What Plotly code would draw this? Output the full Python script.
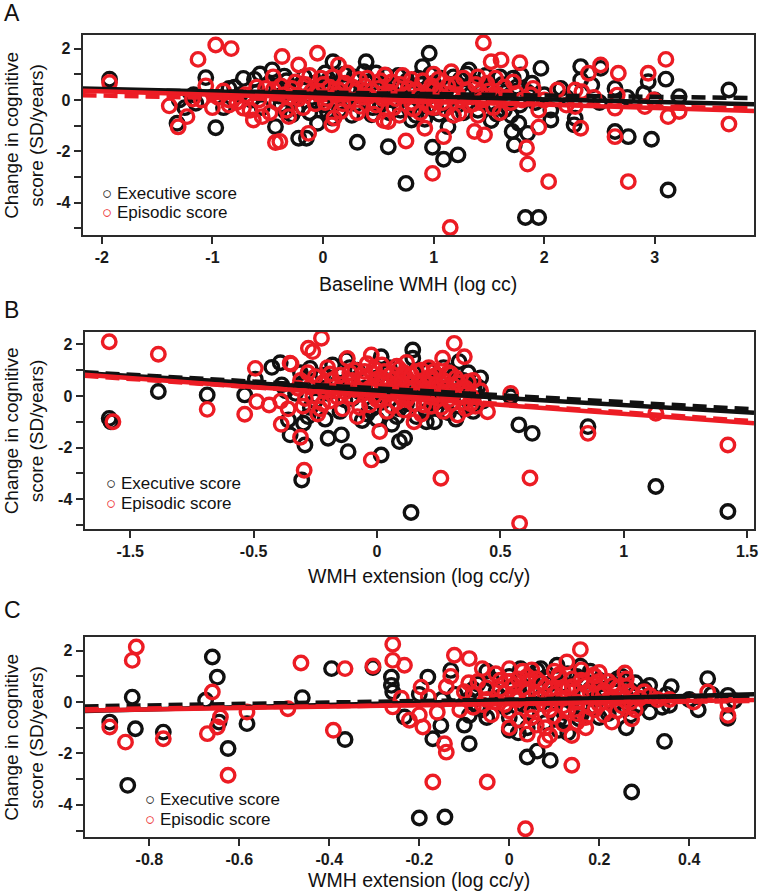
import plotly.graph_objects as go

W, H = 764, 893
BLACK = "#111111"
RED = "#ec1c24"
AXC = "#2a2a2a"
FONT = "Liberation Sans, Arial, sans-serif"

# ---------------- data ----------------
# Panel A: Baseline WMH (log cc) vs change in cognitive score
A_exec = [(-1.93, 0.81), (-1.06, 0.87), (-0.97, -1.08), (-1.32, -0.91), (-1.15, -0.13), (-1.17, 0.2),
          (-0.72, 0.84), (-0.57, 1.01), (-0.46, 1.17), (-0.35, 0.93), (-0.43, -1.04), (-0.85, 0.45),
          (-0.34, -0.45), (-0.22, -1.49), (-0.15, -1.49), (-0.05, -0.91), (0.31, -1.65), (0.59, -1.82),
          (0.75, -3.25), (0.96, 1.82), (0.90, 1.30), (0.99, -1.84), (1.09, -2.31), (1.22, -2.14),
          (1.13, -1.04), (1.32, 1.17), (1.83, -4.58), (1.95, -4.58), (1.73, -1.75), (1.77, -0.91),
          (1.79, 0.97), (1.97, 1.23), (1.85, -1.30), (2.06, -0.78), (2.06, -0.39), (1.89, 0.65),
          (2.33, 1.30), (2.33, 0.78), (2.51, 1.23), (2.43, 0.58), (2.28, -0.71), (2.27, -0.97),
          (2.64, 0.45), (2.64, -1.23), (2.76, -1.43), (2.94, 0.71), (2.97, -1.53), (3.10, 0.81),
          (3.12, -3.51), (3.22, 0.13), (3.67, 0.39), (0.09, 1.49), (0.39, 1.49), (0.44, -0.58),
          (0.80, -0.78), (1.02, -0.30), (1.64, -0.39), (1.71, -1.23), (-0.28, -0.58),
          (-0.3, 0.3), (-0.2, 0.6), (-0.1, 0.1), (-0.05, 0.45), (0.0, -0.2), (0.05, 0.8), (0.1, 0.25),
          (0.15, -0.4), (0.18, 0.55), (0.22, 0.05), (0.28, 0.9), (0.3, -0.15), (0.35, 0.4), (0.4, 0.7),
          (0.45, -0.3), (0.5, 0.2), (0.55, 0.6), (0.6, -0.5), (0.62, 0.35), (0.68, 0.95), (0.72, 0.1),
          (0.78, -0.35), (0.82, 0.5), (0.86, 0.85), (0.9, -0.1), (0.95, 0.3), (1.0, 0.65), (1.05, -0.55),
          (1.08, 0.15), (1.12, 0.45), (1.18, 0.9), (1.22, -0.2), (1.28, 0.3), (1.35, 0.7), (1.4, -0.4),
          (1.45, 0.1), (1.5, 0.55), (1.55, -0.15), (1.6, 0.9), (1.65, 0.3), (1.7, -0.6), (1.75, 0.5),
          (-0.4, 0.15), (0.08, -0.7), (0.48, 1.05), (0.92, -0.75), (1.3, 1.0), (1.52, -0.8), (2.0, 0.2),
          (2.2, 0.1), (2.5, -0.1), (2.75, 0.1), (2.9, 0.25), (3.0, 0.0), (2.15, 0.45), (-0.6, 0.3),
          (-0.8, 0.5), (-0.65, 0.0), (-0.5, 0.6), (-1.25, -0.3), (-1.3, 0.0),
          (-0.42, 0.55), (-0.38, -0.2), (-0.33, 0.75), (-0.27, 0.05), (-0.24, -0.35), (-0.17, 0.9),
          (-0.12, -0.5), (-0.08, 0.65), (-0.03, 0.2), (0.02, 1.05), (0.04, -0.45), (0.11, 0.6), (0.14, -0.1),
          (0.19, 1.0), (0.24, 0.35), (0.26, -0.6), (0.33, 0.15), (0.37, 1.1), (0.41, -0.1), (0.47, 0.5),
          (0.52, -0.2), (0.57, 0.95), (0.63, 0.0), (0.66, 0.6), (0.7, -0.4), (0.76, 0.75), (0.81, 0.25),
          (0.84, -0.6), (0.89, 0.6), (0.93, 0.05), (0.97, 1.0), (1.03, 0.35), (1.07, 0.85), (1.11, -0.15),
          (1.15, 0.6), (1.19, 0.1), (1.24, 0.8), (1.27, -0.5), (1.33, 0.2), (1.38, 0.5), (1.43, -0.1),
          (1.47, 0.95), (1.53, 0.35), (1.57, -0.55), (1.62, 0.6), (1.67, 0.0), (1.72, 0.85), (1.78, -0.2),
          (1.85, 0.3), (1.92, -0.1), (-0.55, -0.3), (-0.62, 0.8), (-0.9, -0.3), (-0.75, 0.2)]
A_epi = [(-1.93, 0.68), (-1.13, 1.58), (-0.97, 2.14), (-0.83, 2.0), (-1.06, 0.55), (-1.31, -1.05),
         (-1.23, -0.65), (-1.39, -0.23), (-1.18, 0.04), (-0.37, 1.69), (-0.43, -1.66), (-0.85, 0.0),
         (-0.85, -0.2), (-0.72, -0.32), (-0.63, -0.78), (-0.55, -0.65), (-0.52, 0.45), (-0.31, -0.65),
         (-0.39, -1.62), (-0.05, 1.82), (-0.13, -1.30), (0.08, -0.97), (0.75, -1.60), (0.99, -2.86),
         (1.09, -1.43), (1.15, -4.97), (1.45, 2.23), (1.52, 1.49), (1.61, 1.56), (1.37, -1.23),
         (1.46, -1.36), (1.84, -1.86), (1.85, -2.5), (1.78, 1.45), (1.95, -1.06), (2.04, -3.18),
         (2.12, 0.39), (1.9, 0.45), (2.40, 1.04), (2.51, 1.36), (2.28, 0.39), (2.34, 0.32),
         (2.33, -1.10), (2.28, -0.26), (2.67, 1.04), (2.66, 0.19), (2.64, -0.32), (2.64, -1.43),
         (2.76, -3.18), (2.94, 1.04), (2.91, -0.26), (2.99, 0.0), (3.10, 1.58), (3.12, -0.65),
         (3.22, -0.45), (3.67, -0.94), (0.59, -0.84), (0.92, -1.1), (1.23, -0.52), (1.4, -0.6),
         (1.55, 0.1), (0.56, 0.97), (1.16, 1.1), (-0.22, 1.36), (0.14, 1.36), (0.33, 0.8), (0.8, 0.8),
         (1.0, -0.3),
         (-0.45, 0.4), (-0.3, 0.1), (-0.25, 0.7), (-0.18, -0.3), (-0.1, 0.35), (-0.02, 0.85), (0.02, -0.1),
         (0.06, 0.5), (0.12, 0.2), (0.16, -0.45), (0.2, 0.65), (0.24, 0.0), (0.3, 0.35), (0.34, -0.25),
         (0.38, 0.55), (0.42, 0.15), (0.46, -0.55), (0.5, 0.45), (0.54, 0.05), (0.6, 0.3), (0.64, -0.3),
         (0.7, 0.6), (0.74, 0.2), (0.8, -0.1), (0.84, 0.4), (0.88, -0.5), (0.94, 0.15), (0.98, 0.55),
         (1.02, -0.05), (1.06, 0.35), (1.1, -0.35), (1.16, 0.25), (1.2, 0.6), (1.25, 0.0), (1.3, 0.4),
         (1.36, -0.15), (1.42, 0.3), (1.48, 0.65), (1.54, -0.3), (1.58, 0.2), (1.64, 0.5), (1.7, -0.1),
         (1.75, 0.25), (-0.7, 0.2), (-0.6, 0.5), (-0.95, 0.1), (-0.78, -0.1), (-1.1, 0.0), (0.1, -0.7),
         (0.55, -0.8), (1.0, 1.0), (1.4, 0.9), (2.0, 0.0), (2.2, -0.2), (2.45, 0.1), (1.95, -0.4),
         (-0.42, -0.1), (-0.38, 0.55), (-0.35, 0.2), (-0.33, -0.4), (-0.28, 0.45), (-0.22, 0.05),
         (-0.16, 0.6), (-0.12, 0.95), (-0.07, -0.15), (-0.04, 0.3), (0.0, 0.6), (0.04, 0.05), (0.09, 0.9),
         (0.14, 0.4), (0.18, -0.15), (0.22, 1.05), (0.27, 0.5), (0.31, -0.5), (0.36, 0.1), (0.4, 0.85),
         (0.44, 0.35), (0.48, -0.2), (0.52, 0.75), (0.57, 0.15), (0.62, 0.7), (0.66, 0.05), (0.69, -0.6),
         (0.72, 0.95), (0.77, 0.45), (0.82, -0.35), (0.86, 0.15), (0.9, 0.75), (0.96, -0.25), (1.0, 0.4),
         (1.04, 0.8), (1.08, -0.1), (1.13, 0.55), (1.18, -0.6), (1.22, 0.2), (1.27, 0.85), (1.33, -0.2),
         (1.38, 0.6), (1.44, 0.0), (1.5, 0.35), (1.56, 0.85), (1.6, -0.5), (1.66, 0.1), (1.72, 0.7),
         (1.8, 0.0), (1.88, 0.2), (-0.48, -0.5), (-0.58, 0.0), (-0.66, -0.4), (-0.9, 0.35), (-1.0, -0.3),
         (-0.45, 0.9)]

# Panel B: WMH extension (log cc/y)
B_exec = [(-1.085, -0.87), (-1.078, -1.0), (-0.886, 0.17), (-0.688, 0.04), (-0.536, 0.04), (-0.493, 0.65),
          (-0.426, 1.11), (-0.392, 1.29), (-0.386, 0.43), (-0.352, -1.51), (-0.305, -3.26), (-0.271, 1.07),
          (-0.124, 1.40), (0.017, 1.52), (0.145, 1.78), (0.145, 1.46), (0.333, 1.33), (-0.298, -1.06),
          (-0.292, -1.90), (-0.198, -1.64), (-0.144, -1.51), (-0.117, -2.16), (0.017, -2.29), (0.0, -0.9),
          (0.091, -1.77), (0.112, -1.64), (0.138, -4.52), (0.542, -0.03), (0.575, -1.12), (0.629, -1.45),
          (0.233, -1.0), (0.394, 0.36), (0.855, -1.19), (1.13, -3.51), (1.422, -4.48), (-0.359, -0.93),
          (-0.37, 0.2),
          (-0.3, 0.5), (-0.25, -0.2), (-0.22, 0.8), (-0.2, 0.1), (-0.15, -0.6), (-0.12, 0.6), (-0.1, -0.1),
          (-0.08, 1.0), (-0.05, 0.3), (-0.02, -0.5), (0.0, 0.7), (0.03, 0.0), (0.05, 1.1), (0.08, -0.8),
          (0.1, 0.4), (0.12, -0.3), (0.15, 0.9), (0.18, 0.1), (0.2, -0.6), (0.22, 0.5), (0.25, -0.2),
          (0.28, 0.8), (0.3, 0.2), (0.32, -0.9), (0.35, 0.6), (0.38, -0.4), (0.4, 0.1), (-0.28, -0.8),
          (-0.18, 1.2), (0.06, -1.1), (0.27, 1.1), (0.2, -1.0), (-0.06, -0.95), (0.36, -0.1),
          (-0.33, 0.1), (-0.31, 0.9), (-0.27, -0.45), (-0.23, 0.3), (-0.21, -0.9), (-0.16, 0.5),
          (-0.13, -0.15), (-0.11, 1.1), (-0.07, 0.15), (-0.04, -0.7), (-0.01, 0.45), (0.02, -0.25),
          (0.04, 0.9), (0.07, 0.2), (0.09, -0.5), (0.11, 0.75), (0.13, 0.1), (0.16, -0.8), (0.19, 0.4),
          (0.21, 1.0), (0.23, -0.3), (0.26, 0.25), (0.29, -0.65), (0.31, 0.55), (0.34, 0.0), (0.37, 0.9),
          (0.39, -0.6), (0.41, 0.35), (0.43, -0.2), (0.42, 0.7)]
B_epi = [(-1.085, 2.10), (-1.07, -1.0), (-0.886, 1.62), (-0.688, -0.52), (-0.536, -0.71), (-0.493, 1.07),
         (-0.487, -0.22), (-0.348, 1.24), (-0.437, -0.35), (-0.388, -1.10), (-0.36, -0.50), (-0.39, -0.2),
         (-0.295, -2.88), (-0.31, -1.6), (-0.225, 2.24), (-0.278, 1.85), (-0.26, 1.72), (-0.352, 1.27),
         (-0.12, 1.45), (-0.023, 1.59), (0.313, 2.04), (0.266, 1.46), (0.354, 1.52), (-0.023, -2.48),
         (0.011, -1.38), (0.259, -3.19), (0.578, -4.94), (0.542, 0.10), (0.448, -0.61), (0.62, -3.18),
         (0.15, -1.0), (0.327, -0.74), (0.38, -0.3), (0.855, -1.45), (1.13, -0.67), (1.422, -1.90),
         (-0.32, 0.3), (-0.3, -0.4), (-0.28, 0.9), (-0.26, 0.0), (-0.24, -0.7), (-0.22, 0.5), (-0.2, 1.1),
         (-0.19, -0.2), (-0.17, 0.2), (-0.15, 0.8), (-0.14, -0.5), (-0.12, 0.4), (-0.1, -0.05), (-0.09, 1.0),
         (-0.08, -0.8), (-0.06, 0.6), (-0.05, 0.15), (-0.03, -0.35), (-0.02, 0.9), (0.0, 0.35), (0.01, -0.1),
         (0.02, 1.2), (0.03, 0.6), (0.04, -0.6), (0.05, 0.1), (0.06, 0.85), (0.07, 0.4), (0.08, -0.25),
         (0.09, 1.05), (0.1, 0.2), (0.11, -0.55), (0.12, 0.7), (0.13, 0.0), (0.14, 0.45), (0.15, -0.3),
         (0.16, 0.95), (0.17, 0.25), (0.18, -0.7), (0.19, 0.6), (0.2, 0.05), (0.21, 1.1), (0.22, -0.4),
         (0.23, 0.35), (0.24, 0.8), (0.25, -0.1), (0.26, 0.5), (0.27, -0.6), (0.28, 0.15), (0.29, 0.9),
         (0.3, -0.3), (0.31, 0.4), (0.32, 0.7), (0.33, -0.05), (0.34, 0.25), (0.36, -0.5), (0.37, 0.55),
         (0.38, 0.0), (-0.01, 0.0), (0.05, 0.5), (0.1, 0.75), (0.15, 0.3), (0.2, 0.45), (-0.1, 0.6),
         (-0.05, 0.95), (0.0, 0.65), (0.08, 0.3), (-0.13, 0.15), (0.12, 1.3), (-0.04, 1.25), (0.22, 0.75),
         (-0.22, -0.3), (-0.18, 0.6),
         (-0.31, 0.6), (-0.29, -0.1), (-0.27, 0.35), (-0.25, 0.75), (-0.23, -0.5), (-0.21, 0.2),
         (-0.19, 0.85), (-0.16, -0.05), (-0.14, 0.45), (-0.11, 0.9), (-0.09, 0.25), (-0.07, -0.45),
         (-0.05, 0.7), (-0.03, 0.3), (-0.01, 1.05), (0.0, -0.15), (0.02, 0.45), (0.03, 0.95), (0.04, 0.2),
         (0.06, -0.4), (0.07, 0.65), (0.08, 1.15), (0.09, 0.05), (0.1, 0.5), (0.11, 0.9), (0.12, -0.15),
         (0.13, 0.3), (0.14, 0.8), (0.16, 0.1), (0.17, 0.55), (0.18, 1.0), (0.19, -0.35), (0.2, 0.25),
         (0.21, 0.7), (0.22, -0.05), (0.23, 0.95), (0.24, 0.45), (0.25, 0.1), (0.26, -0.45), (0.27, 0.6),
         (0.28, 0.3), (0.29, -0.15), (0.3, 0.85), (0.31, 0.15), (0.33, 0.5), (0.35, -0.25), (0.36, 0.3),
         (0.39, 0.6), (0.4, -0.4), (0.42, 0.2)]

# Panel C: WMH extension (log cc/y)
C_exec = [(-0.838, 0.19), (-0.888, -0.78), (-0.831, -1.04), (-0.848, -3.24), (-0.769, -1.17), (-0.66, 1.75),
          (-0.649, 0.97), (-0.675, 0.07), (-0.645, -0.78), (-0.625, -1.81), (-0.583, -0.84), (-0.46, 0.17),
          (-0.395, 1.30), (-0.365, -1.46), (-0.303, 1.34), (-0.262, 0.97), (-0.262, 0.65), (-0.259, 0.39),
          (-0.233, -0.58), (-0.181, 0.97), (-0.17, -1.43), (-0.2, -4.51), (-0.143, -4.47), (-0.152, -0.91),
          (-0.13, 1.23), (-0.089, -1.62), (-0.089, -0.52), (-0.07, -0.2), (0.025, 1.30), (0.04, -2.14),
          (0.106, 1.43), (0.158, 1.39), (0.062, 1.23), (0.257, 0.84), (0.441, 0.91), (0.312, 0.65),
          (0.312, -0.39), (0.356, -0.13), (0.486, 0.26), (0.486, -0.63), (0.345, -1.53), (0.272, -3.50),
          (0.091, -2.27), (0.062, -1.91), (0.04, -1.0), (0.155, -0.65), (0.26, -1.0),
          (-0.08, 0.5), (-0.06, -0.3), (-0.04, 0.9), (-0.02, 0.2), (0.0, -0.6), (0.01, 0.6), (0.03, -0.1),
          (0.05, 1.0), (0.06, 0.3), (0.08, -0.8), (0.09, 0.7), (0.1, 0.0), (0.12, -0.4), (0.13, 1.1),
          (0.14, 0.4), (0.16, -0.2), (0.17, 0.8), (0.19, 0.1), (0.2, -0.6), (0.21, 0.5), (0.23, -0.1),
          (0.24, 0.9), (0.26, 0.2), (0.27, -0.5), (0.02, -1.2), (0.11, -1.1), (-0.12, 0.3), (-0.15, 0.1),
          (-0.2, 0.3), (-0.1, -0.9), (0.18, 1.2), (0.07, 1.3), (0.3, 0.1), (0.35, 0.3),
          (-0.09, 0.1), (-0.07, 0.7), (-0.05, -0.6), (-0.03, 0.4), (-0.01, -0.2), (0.0, 1.0), (0.02, 0.3),
          (0.04, -0.4), (0.05, 0.55), (0.07, -0.05), (0.08, 0.95), (0.1, 0.35), (0.11, -0.7), (0.12, 0.7),
          (0.14, 0.05), (0.15, 1.0), (0.16, -0.5), (0.18, 0.5), (0.19, -0.2), (0.2, 0.85), (0.21, 0.2),
          (0.22, -0.45), (0.23, 0.6), (0.24, 0.0), (0.25, 1.0), (0.26, -0.25), (0.27, 0.45), (0.28, 0.75),
          (0.29, -0.1), (0.3, 0.5), (0.32, 0.2), (0.34, -0.2), (0.36, 0.6), (0.4, 0.1), (0.42, -0.3),
          (0.45, 0.3), (0.5, 0.05), (-0.05, 1.2), (0.0, -1.1), (0.13, -1.2)]
C_epi = [(-0.829, 2.14), (-0.838, 1.62), (-0.888, -0.97), (-0.853, -1.56), (-0.769, -1.43), (-0.66, 0.39),
         (-0.671, -1.23), (-0.649, -0.97), (-0.642, -0.58), (-0.625, -2.85), (-0.583, -0.39), (-0.492, -0.26),
         (-0.463, 1.52), (-0.365, 1.30), (-0.391, -1.10), (-0.303, 1.40), (-0.259, 2.25), (-0.259, 1.62),
         (-0.233, 1.43), (-0.259, -0.19), (-0.222, -0.71), (-0.196, 0.58), (-0.192, -0.97), (-0.17, -3.11),
         (-0.144, -1.62), (-0.14, -1.95), (-0.122, 1.82), (-0.089, 1.69), (-0.049, -3.11), (0.036, -4.93),
         (0.158, 2.04), (0.128, 1.56), (0.257, 1.13), (0.312, 0.26), (0.356, 0.1), (0.441, 0.39),
         (0.486, -0.1), (0.486, -0.52), (0.41, 0.0), (0.139, -2.46), (0.08, -1.49), (0.09, -1.3),
         (0.139, -1.30), (0.15, -0.8), (0.228, -0.78), (0.272, -0.65), (0.19, -0.3), (0.187, 1.04), (0.2, 0.8),
         (-0.1, 0.4), (-0.08, -0.2), (-0.07, 0.8), (-0.05, 0.1), (-0.04, -0.5), (-0.03, 1.1), (-0.02, 0.5),
         (-0.01, -0.1), (0.0, 0.8), (0.01, 0.2), (0.02, -0.7), (0.03, 0.55), (0.04, 1.0), (0.05, -0.3),
         (0.06, 0.3), (0.07, 0.75), (0.08, -0.1), (0.09, 0.5), (0.1, -0.55), (0.11, 0.95), (0.12, 0.15),
         (0.13, -0.3), (0.14, 0.6), (0.15, 0.0), (0.16, 0.85), (0.17, -0.6), (0.18, 0.35), (0.19, 0.7),
         (0.2, -0.1), (0.21, 0.45), (0.22, 0.1), (0.23, 0.65), (0.24, -0.35), (0.25, 0.3), (0.26, 0.9),
         (0.27, 0.0), (-0.14, 0.6), (-0.16, -0.4), (-0.18, 0.2), (0.05, 1.25), (0.1, 1.2), (0.0, -1.0),
         (0.06, -0.9), (-0.06, 1.3), (0.02, 0.9), (0.12, 0.45), (0.08, 0.25),
         (-0.11, -0.3), (-0.09, 0.75), (-0.08, 0.3), (-0.06, -0.1), (-0.05, 0.55), (-0.03, 0.0),
         (-0.02, 0.85), (-0.01, 0.35), (0.0, -0.35), (0.01, 0.65), (0.02, 0.1), (0.03, 1.2), (0.04, 0.4),
         (0.05, -0.6), (0.06, 0.9), (0.07, 0.15), (0.08, 0.6), (0.09, -0.3), (0.1, 0.3), (0.11, 1.05),
         (0.12, -0.15), (0.13, 0.55), (0.14, 0.9), (0.15, -0.45), (0.16, 0.25), (0.17, 0.65), (0.18, -0.2),
         (0.19, 1.0), (0.2, 0.3), (0.21, -0.5), (0.22, 0.8), (0.23, 0.2), (0.24, 0.55), (0.25, -0.15),
         (0.26, 0.6), (0.27, 0.35), (0.28, -0.3), (0.29, 0.15), (0.3, 0.4), (0.33, 0.1), (0.08, -1.0),
         (0.12, -0.85), (0.04, -1.25), (0.17, -1.0), (-0.13, 1.0), (-0.2, -0.5), (-0.24, 0.15), (0.0, 1.3),
         (0.16, 1.25), (0.2, 1.15)]

# regression fits: (intercept, slope) for executive solid/dashed, episodic solid/dashed
A_fits = [(0.228, -0.102), (0.282, -0.054), (0.08, -0.13), (0.0, -0.085)]
B_fits = [(0.212, -0.564), (0.291, -0.531), (-0.001, -0.693), (0.011, -0.649)]
C_fits = [(0.062, 0.437), (0.096, 0.282), (-0.07, 0.276), (-0.077, 0.215)]

# axis ticks
Y_TICKS = [-5, -4, -3, -2, -1, 0, 1, 2]
Y_LABELS = ["", "-4", "", "-2", "", "0", "", "2"]
A_XTICKS = [-2, -1, 0, 1, 2, 3]
A_XLABELS = ["-2", "-1", "0", "1", "2", "3"]
B_XTICKS = [-1.0, -0.5, 0, 0.5, 1.0, 1.5]
B_XLABELS = ["-1.5", "-0.5", "0", "0.5", "1", "1.5"]
C_XTICKS = [-0.8, -0.6, -0.4, -0.2, 0, 0.2, 0.4]
C_XLABELS = ["-0.8", "-0.6", "-0.4", "-0.2", "0", "0.2", "0.4"]

LETTERS = ["A", "B", "C"]
X_TITLES = ["Baseline WMH (log cc)", "WMH extension (log cc/y)", "WMH extension (log cc/y)"]
Y_TITLE = "Change in cognitive<br>score (SD/years)"
SERIES = ["Executive score", "Episodic score"]

# ---------------- layout geometry (pixels) ----------------
panels = [
    dict(exec=A_exec, epi=A_epi, fits=A_fits, xt=A_XTICKS, xl=A_XLABELS,
         xr=[-2.174, 3.897], yr=[-5.26, 2.53], box=(83, 758, 35, 235),
         legend=(101, 193), xtitle_y=284, letter_y=13),
    dict(exec=B_exec, epi=B_epi, fits=B_fits, xt=B_XTICKS, xl=B_XLABELS,
         xr=[-1.185, 1.528], yr=[-5.16, 2.48], box=(85, 758, 332, 529),
         legend=(105, 483), xtitle_y=576, letter_y=310),
    dict(exec=C_exec, epi=C_epi, fits=C_fits, xt=C_XTICKS, xl=C_XLABELS,
         xr=[-0.944, 0.544], yr=[-5.25, 2.53], box=(85, 758, 637, 837),
         legend=(144, 799), xtitle_y=880, letter_y=610),
]


def px(x):
    return x / W


def py(y):
    return 1 - y / H


fig = go.Figure()
annotations = []
layout_axes = {}

for i, p in enumerate(panels):
    n = "" if i == 0 else str(i + 1)
    xa, ya = "x" + n, "y" + n
    for pts, col in ((p["exec"], BLACK), (p["epi"], RED)):
        fig.add_trace(go.Scatter(
            x=[a for a, b in pts], y=[b for a, b in pts], mode="markers",
            xaxis=xa, yaxis=ya, showlegend=False, hoverinfo="skip",
            marker=dict(symbol="circle", size=13.5, color="rgba(0,0,0,0)",
                        line=dict(color=col, width=3.4))))
    styles = [(BLACK, "solid"), (BLACK, "14px,7px"), (RED, "solid"), (RED, "14px,7px")]
    for (b, m), (col, dash) in zip(p["fits"], styles):
        xs = p["xr"]
        fig.add_trace(go.Scatter(
            x=xs, y=[b + m * v for v in xs], mode="lines", xaxis=xa, yaxis=ya,
            showlegend=False, hoverinfo="skip", line=dict(color=col, width=4.5, dash=dash)))

    L, R, T, B = p["box"]
    common = dict(showline=True, linewidth=2, linecolor=AXC, mirror=True, ticks="outside",
                  ticklen=7, tickwidth=2, tickcolor=AXC, showgrid=False, zeroline=False,
                  tickfont=dict(family=FONT, size=16, color="#1a1a1a", weight="bold"))
    layout_axes["xaxis" + n] = dict(domain=[px(L), px(R)], range=p["xr"], anchor=ya,
                                    tickmode="array", tickvals=p["xt"], ticktext=p["xl"], **common)
    layout_axes["yaxis" + n] = dict(domain=[py(B), py(T)], range=p["yr"], anchor=xa,
                                    tickmode="array", tickvals=Y_TICKS, ticktext=Y_LABELS, **common)

    annotations.append(dict(text=LETTERS[i], xref="paper", yref="paper", x=px(2), y=py(p["letter_y"]),
                            xanchor="left", yanchor="middle", showarrow=False,
                            font=dict(family=FONT, size=23, color="#111")))
    annotations.append(dict(text=X_TITLES[i], xref="paper", yref="paper", x=px((L + R) / 2),
                            y=py(p["xtitle_y"]), xanchor="center", yanchor="middle", showarrow=False,
                            font=dict(family=FONT, size=19.5, color="#111")))
    annotations.append(dict(text=Y_TITLE, xref="paper", yref="paper", x=px(24), y=py((T + B) / 2),
                            xanchor="center", yanchor="middle", textangle=-90, showarrow=False,
                            font=dict(family=FONT, size=19, color="#111")))
    lx, ly = p["legend"]
    for k, (name, col) in enumerate(zip(SERIES, (BLACK, RED))):
        annotations.append(dict(text=f'<span style="color:{col}">○</span> {name}', xref="paper",
                                yref="paper", x=px(lx), y=py(ly + 20 * k), xanchor="left",
                                yanchor="middle", showarrow=False,
                                font=dict(family=FONT, size=17, color="#111")))

fig.update_layout(width=W, height=H, margin=dict(l=0, r=0, t=0, b=0), plot_bgcolor="white",
                  paper_bgcolor="white", showlegend=False, annotations=annotations, **layout_axes)

fig.write_html("out.html", config={"displayModeBar": False},
               post_script="document.body.style.margin='0';")
